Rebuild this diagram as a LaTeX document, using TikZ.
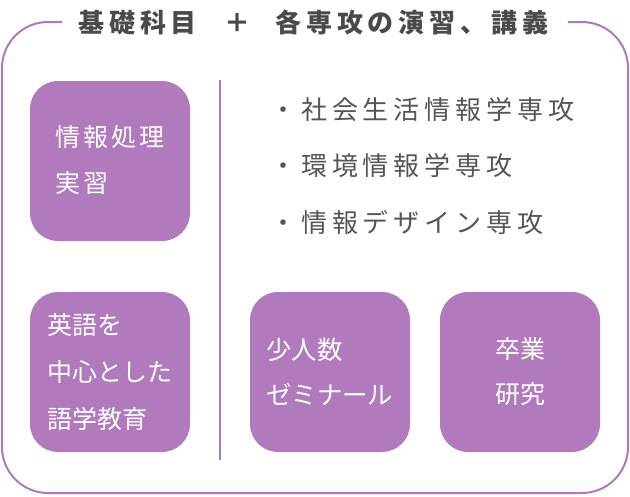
\documentclass[tikz,border=0pt]{standalone}
\usepackage{fontspec}
\newfontfamily\jp{Noto Sans CJK JP}
\newfontfamily\jpsp[LetterSpace=19]{Noto Sans CJK JP}
\newfontfamily\jpbx[LetterSpace=13]{Noto Sans CJK JP}
\newfontfamily\jpti[LetterSpace=19]{Noto Sans CJK JP}
\definecolor{boxpurple}{RGB}{176,122,189}
\definecolor{framepurple}{RGB}{176,118,190}
\definecolor{titlegray}{RGB}{74,74,74}
\definecolor{listgray}{RGB}{85,85,85}
\tikzset{
  card/.style={fill=boxpurple, draw=none, rounded corners=28pt, minimum width=160pt, minimum height=160pt, inner sep=0pt},
  cardtext/.style={text=white, font=\jpbx\fontsize{25}{46}\selectfont, align=left, inner sep=0pt},
  listtext/.style={text=listgray, font=\jpsp\fontsize{26}{30}\selectfont, anchor=west, inner sep=0pt},
  titletext/.style={text=titlegray, font=\jpti\bfseries\fontsize{26}{30}\selectfont, inner sep=0pt},
  framestroke/.style={draw=framepurple, line width=2pt},
}
\begin{document}
\begin{tikzpicture}[x=1pt,y=-1pt]
\useasboundingbox (0,0) rectangle (630,496);
% outer frame
\coordinate (fl) at (62,22);
\coordinate (fr) at (568,22);
\draw[framestroke, rounded corners=46pt] (fl) -- (2,22) -- (2,493) -- (628,493) -- (628,22) -- (fr);
% title
\node[titletext, anchor=west] (t1) at (78,23) {基礎科目};
\node[titletext] (tplus) at (237,23) {\jp\bfseries ＋};
\node[titletext, anchor=west] (t2) at (275,23) {各専攻の演習、講義};
% divider
\coordinate (dtop) at (220,80);
\coordinate (dbot) at (220,460);
\draw[draw=framepurple, line width=1.6pt] (dtop) -- (dbot);
% cards
\node[card] (b1) at (110,161) {};
\node[card] (b2) at (110,372) {};
\node[card] (b3) at (330,372) {};
\node[card] (b4) at (520,372) {};
\node[cardtext, anchor=west] (b1t) at (55,160) {情報処理\\実習};
\node[cardtext, anchor=west, font=\jp\fontsize{25}{47}\selectfont] (b2t) at (47,372) {英語を\\中心とした\\語学教育};
\node[cardtext, anchor=west, font=\jp\fontsize{25.4}{45}\selectfont] (b3t) at (266,372) {少人数\\ゼミナール};
\node[cardtext, align=center, font=\jp\fontsize{25}{45}\selectfont] (b4t) at (520,372) {卒業\\研究};
% list
\node[listtext] (l1) at (270,110) {・社会生活情報学専攻};
\node[listtext] (l2) at (270,166) {・環境情報学専攻};
\node[listtext] (l3) at (270,222) {・情報デザイン専攻};
\end{tikzpicture}
\end{document}
